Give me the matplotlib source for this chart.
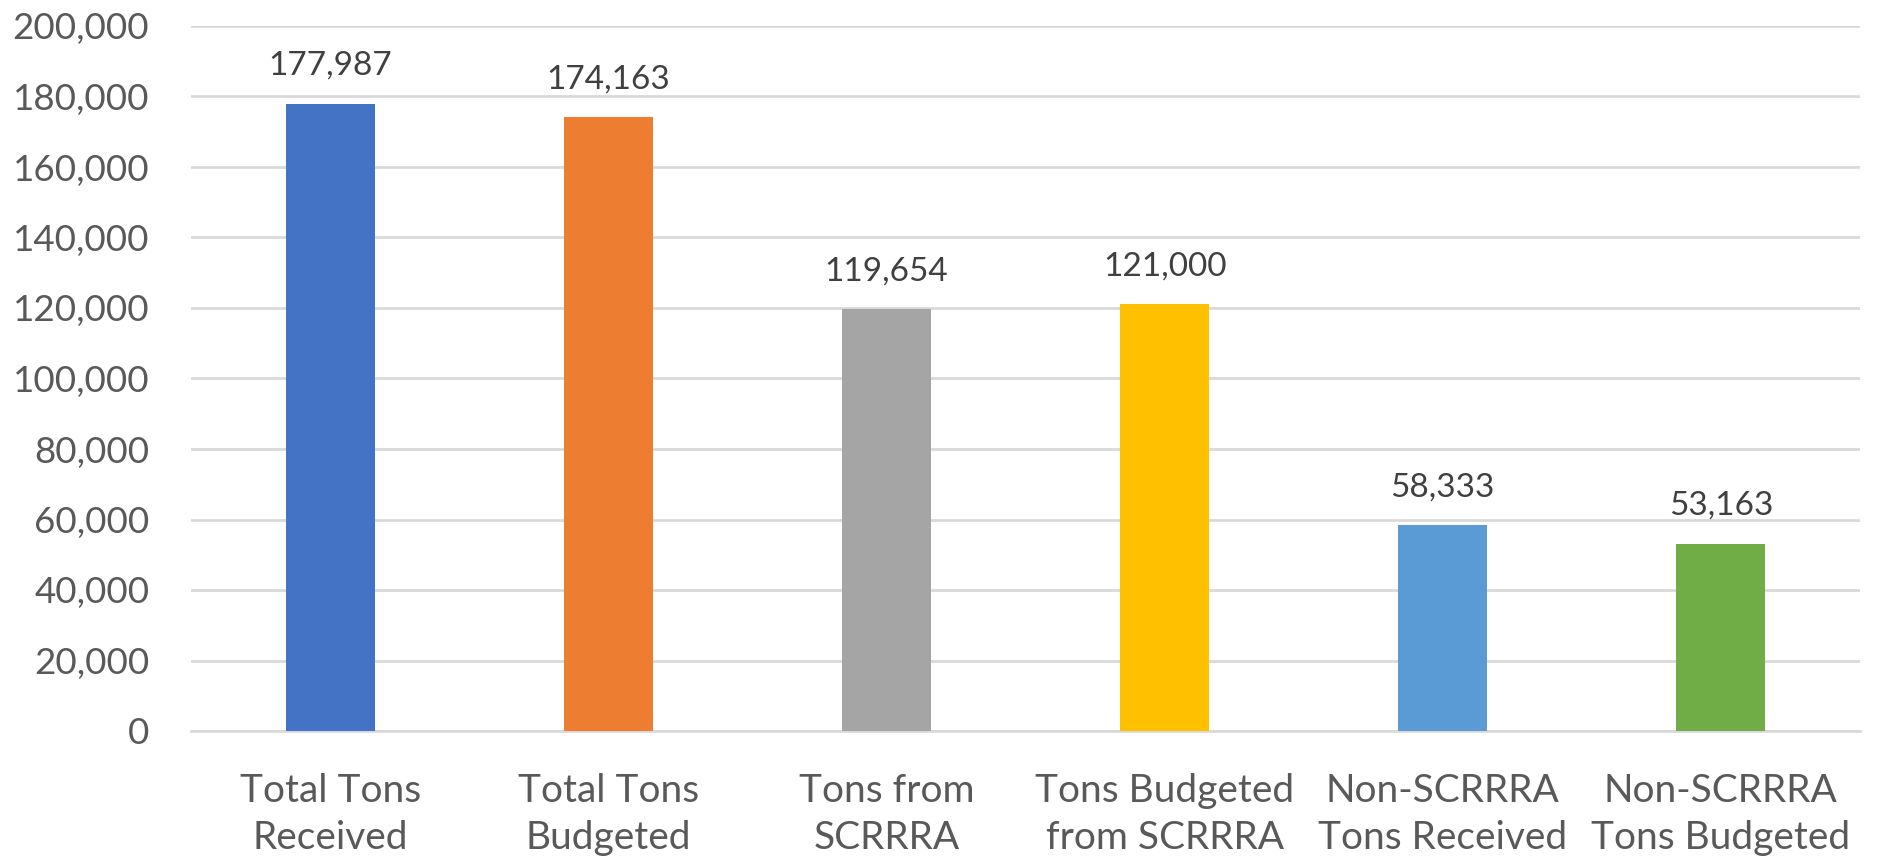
import numpy as np
import matplotlib
matplotlib.use("Agg")
from matplotlib import pyplot as plt
from matplotlib.ticker import FuncFormatter

categories = ["Total Tons\nReceived", "Total Tons\nBudgeted", "Tons from\nSCRRRA",
              "Tons Budgeted\nfrom SCRRRA", "Non-SCRRRA\nTons Received", "Non-SCRRRA\nTons Budgeted"]
values = [177987, 174163, 119654, 121000, 58333, 53163]
colors = ["#4472C4", "#ED7D31", "#A5A5A5", "#FFC000", "#5B9BD5", "#70AD47"]
yticks = np.arange(0, 200001, 20000)

plt.rcParams['font.family'] = ['Lato', 'DejaVu Sans']
text_color = "#595959"

fig = plt.figure(figsize=(18.93, 8.60), dpi=100)
ax = fig.add_axes([191 / 1893, 1 - 731 / 860, (1860 - 191) / 1893, (731 - 26) / 860])

x = np.arange(len(categories))
bars = ax.bar(x, values, width=0.32, color=colors, zorder=3)

# value labels above bars
for b, v in zip(bars, values):
    ax.text(b.get_x() + b.get_width() / 2, v + 6500, f"{v:,}",
            ha="center", va="bottom", fontsize=24, color="#404040")

ax.set_xlim(-0.5, len(categories) - 0.5)
ax.set_ylim(0, 200000)
ax.set_yticks(yticks)
ax.yaxis.set_major_formatter(FuncFormatter(lambda v, p: f"{int(v):,}"))
ax.set_xticks(x)
ax.set_xticklabels(categories, fontsize=28, color=text_color, linespacing=1.38)
ax.tick_params(axis="y", labelsize=26.5, labelcolor=text_color, length=0, pad=30)
ax.tick_params(axis="x", length=0, pad=30)

ax.grid(axis="y", color="#d9d9d9", linewidth=2, zorder=0)
for s in ["top", "right", "left"]:
    ax.spines[s].set_visible(False)
ax.spines["bottom"].set_color("#d9d9d9")
ax.spines["bottom"].set_linewidth(2)

fig.savefig("out.png", dpi=100)
